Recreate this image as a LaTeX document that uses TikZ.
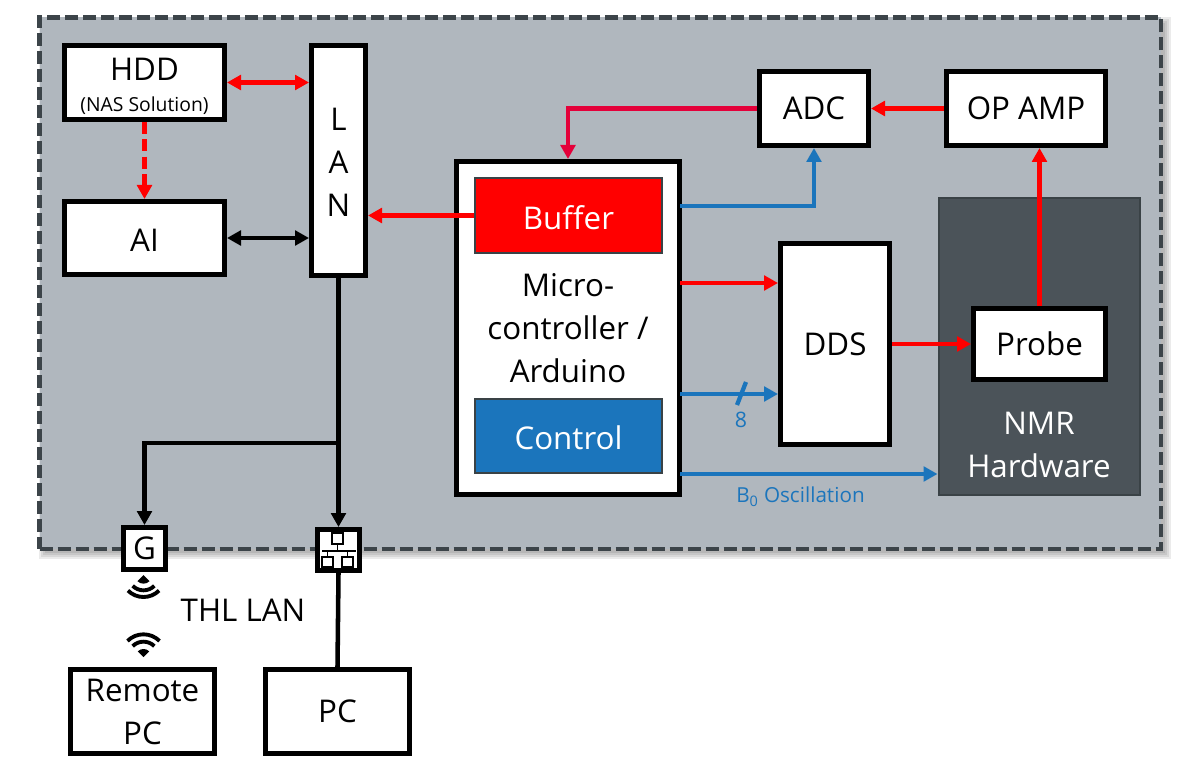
\documentclass[tikz,border=0pt]{standalone}
\usepackage{fontspec}
\setmainfont{Open Sans}
\usetikzlibrary{arrows.meta,calc}
\definecolor{grp}{HTML}{B0B7BE}
\definecolor{grpline}{HTML}{3C4449}
\definecolor{nmrfill}{HTML}{4B5359}
\definecolor{nmrline}{HTML}{3A4246}
\definecolor{ctrlblue}{HTML}{1B75BC}
\definecolor{adcred}{HTML}{E4003A}
\newcommand{\lowertext}[1]{\raisebox{-1.5pt}[\height][\depth]{#1}}
\tikzset{
  x=0.75pt,y=-0.75pt,
  wh/.style 2 args={minimum width=#1*0.75pt,minimum height=#2*0.75pt},
  mainfont/.style={font=\fontsize{23.5}{32.25}\selectfont},
  box/.style={draw=black,fill=white,line width=3.75pt,inner sep=0pt,align=center,mainfont,text=black},
  inner box/.style={draw=nmrline,line width=1.5pt,inner sep=0pt,align=center,text=white,mainfont},
  lbl/.style={inner sep=0pt,align=center,mainfont},
  small lbl/.style={inner sep=0pt,text=ctrlblue,font=\fontsize{15.5}{18}\selectfont},
  conn/.style={line width=3.4pt,-{Triangle[length=10.5pt,width=11pt]}},
  both/.style={line width=3.4pt,{Triangle[length=10.5pt,width=11pt]}-{Triangle[length=10.5pt,width=11pt]}},
  red conn/.style={conn,draw=red},
  blue conn/.style={conn,draw=ctrlblue},
  black conn/.style={conn,draw=black},
  wifi/.style={line width=2.9pt,draw=black},
  neticon/.style={line width=1.1pt,draw=black},
}
\begin{document}
\begin{tikzpicture}
\useasboundingbox (0,0) rectangle (1200,770);
\fill[white] (0,0) rectangle (1200,770);
% soft shadow
\foreach \d in {8,6,4,2}{
  \fill[black,opacity=0.08] (47-\d,25-\d) rectangle (1163+\d,551+\d);
}
% group
\node[fill=grp,draw=grpline,line width=3.25pt,dash pattern=on 9.75pt off 3.75pt,inner sep=0pt,wh={1121.5}{531.5}] (group) at (600.25,283.25) {};
% NMR
\node[inner box,fill=nmrfill,wh={201}{296}] (nmr) at (1039,346.5) {};
\node[lbl,text=white] (nmrtext) at (1039,445) {NMR\\Hardware};
% boxes
\node[box,wh={160}{74}] (hdd) at (144.5,82.5) {\rule{0pt}{23pt}HDD\\[-9pt]{\fontsize{14.5}{14.5}\selectfont (NAS Solution)}};
\node[box,wh={160}{73}] (ai) at (144.5,238) {\lowertext{AI}};
\node[box,wh={54}{230}] (lan) at (338.5,160.5) {\rule{0pt}{20pt}L\\A\\N};
\node[box,wh={223}{333}] (micro) at (568,328) {Micro-\\controller /\\Arduino};
\node[inner box,fill=red,wh={187}{75}] (buffer) at (568.5,215.5) {\lowertext{Buffer}};
\node[inner box,fill=ctrlblue,wh={187}{74}] (control) at (568.5,436) {\lowertext{Control}};
\node[box,wh={109}{74}] (adc) at (814,108.5) {ADC};
\node[box,wh={159}{74}] (opamp) at (1026,108.5) {OP AMP};
\node[box,wh={109}{201}] (dds) at (835,344) {DDS};
\node[box,wh={132}{71}] (probe) at (1039.5,344) {Probe};
\node[box,wh={42}{42}] (g) at (144.5,548.5) {G};
\node[box,wh={42}{41}] (net) at (338.5,550) {};
\node[box,wh={144}{84}] (remote) at (142.5,711.5) {Remote\\PC};
\node[box,wh={144}{84}] (pc) at (337.5,711.5) {PC};
\node[lbl] (thl) at (243,610) {THL LAN};
% network icon
\draw[neticon] (332,533) rectangle (343,544);
\draw[neticon] (322,557) rectangle (333,567);
\draw[neticon] (342,557) rectangle (353,567);
\draw[neticon] (337.5,544) -- (337.5,551);
\draw[neticon] (322,551) -- (356,551);
\draw[neticon] (327.5,551) -- (327.5,557);
\draw[neticon] (347.5,551) -- (347.5,557);
% wifi icons
\begin{scope}[shift={(143.5,575)}]
  \fill (0,0) -- (-45:6.5pt) arc[start angle=-45,end angle=-135,radius=6.5pt] -- cycle;
  \foreach \r in {11.5,16.5}{\draw[wifi] (-45:\r pt) arc[start angle=-45,end angle=-135,radius=\r pt];}
\end{scope}
\begin{scope}[shift={(143.5,657)}]
  \fill (0,0) -- (45:6pt) arc[start angle=45,end angle=135,radius=6pt] -- cycle;
  \foreach \r in {11.5,17}{\draw[wifi] (45:\r pt) arc[start angle=45,end angle=135,radius=\r pt];}
\end{scope}
% coordinates on microcontroller's right side
\coordinate (mA) at ($(micro.east)+(-2,-122)$);
\coordinate (mB) at ($(micro.east)+(-2,-45)$);
\coordinate (mC) at ($(micro.east)+(-2,66)$);
\coordinate (mD) at ($(micro.east)+(-2,146)$);
\coordinate (junction) at (338.5,443);
\coordinate (tickA) at (737,405);
\coordinate (tickB) at (746,382);
% connectors
\draw[both,draw=red] (hdd.east) -- (hdd.east -| lan.west);
\draw[both,draw=black] (ai.east) -- (ai.east -| lan.west);
\draw[red conn,dash pattern=on 9pt off 4pt] (hdd.south) -- (ai.north);
\draw[red conn] (buffer.west) -- (buffer.west -| lan.east);
\draw[conn,draw=adcred] (adc.west) -| (micro.north);
\draw[red conn] (opamp.west) -- (adc.east);
\draw[red conn] (probe.north) -- (probe.north |- opamp.south);
\draw[red conn] (dds.east) -- (probe.west);
\draw[blue conn] (mA) -| (adc.south);
\draw[red conn] (mB) -- (mB -| dds.west);
\draw[blue conn] (mC) -- (mC -| dds.west);
\draw[blue conn] (mD) -- (mD -| nmr.west);
\draw[line width=3.2pt,draw=ctrlblue] (tickA) -- (tickB);
\node[small lbl,font=\fontsize{16}{18}\selectfont] (eight) at (741,420) {8};
\node[small lbl] (bosc) at (800.5,497) {B\textsubscript{0} Oscillation};
\draw[black conn] (lan.south) -- (net.north);
\draw[black conn] (junction) -| (g.north);
\draw[line width=3.4pt,draw=black] (net.south) -- (pc.north);
\end{tikzpicture}
\end{document}
